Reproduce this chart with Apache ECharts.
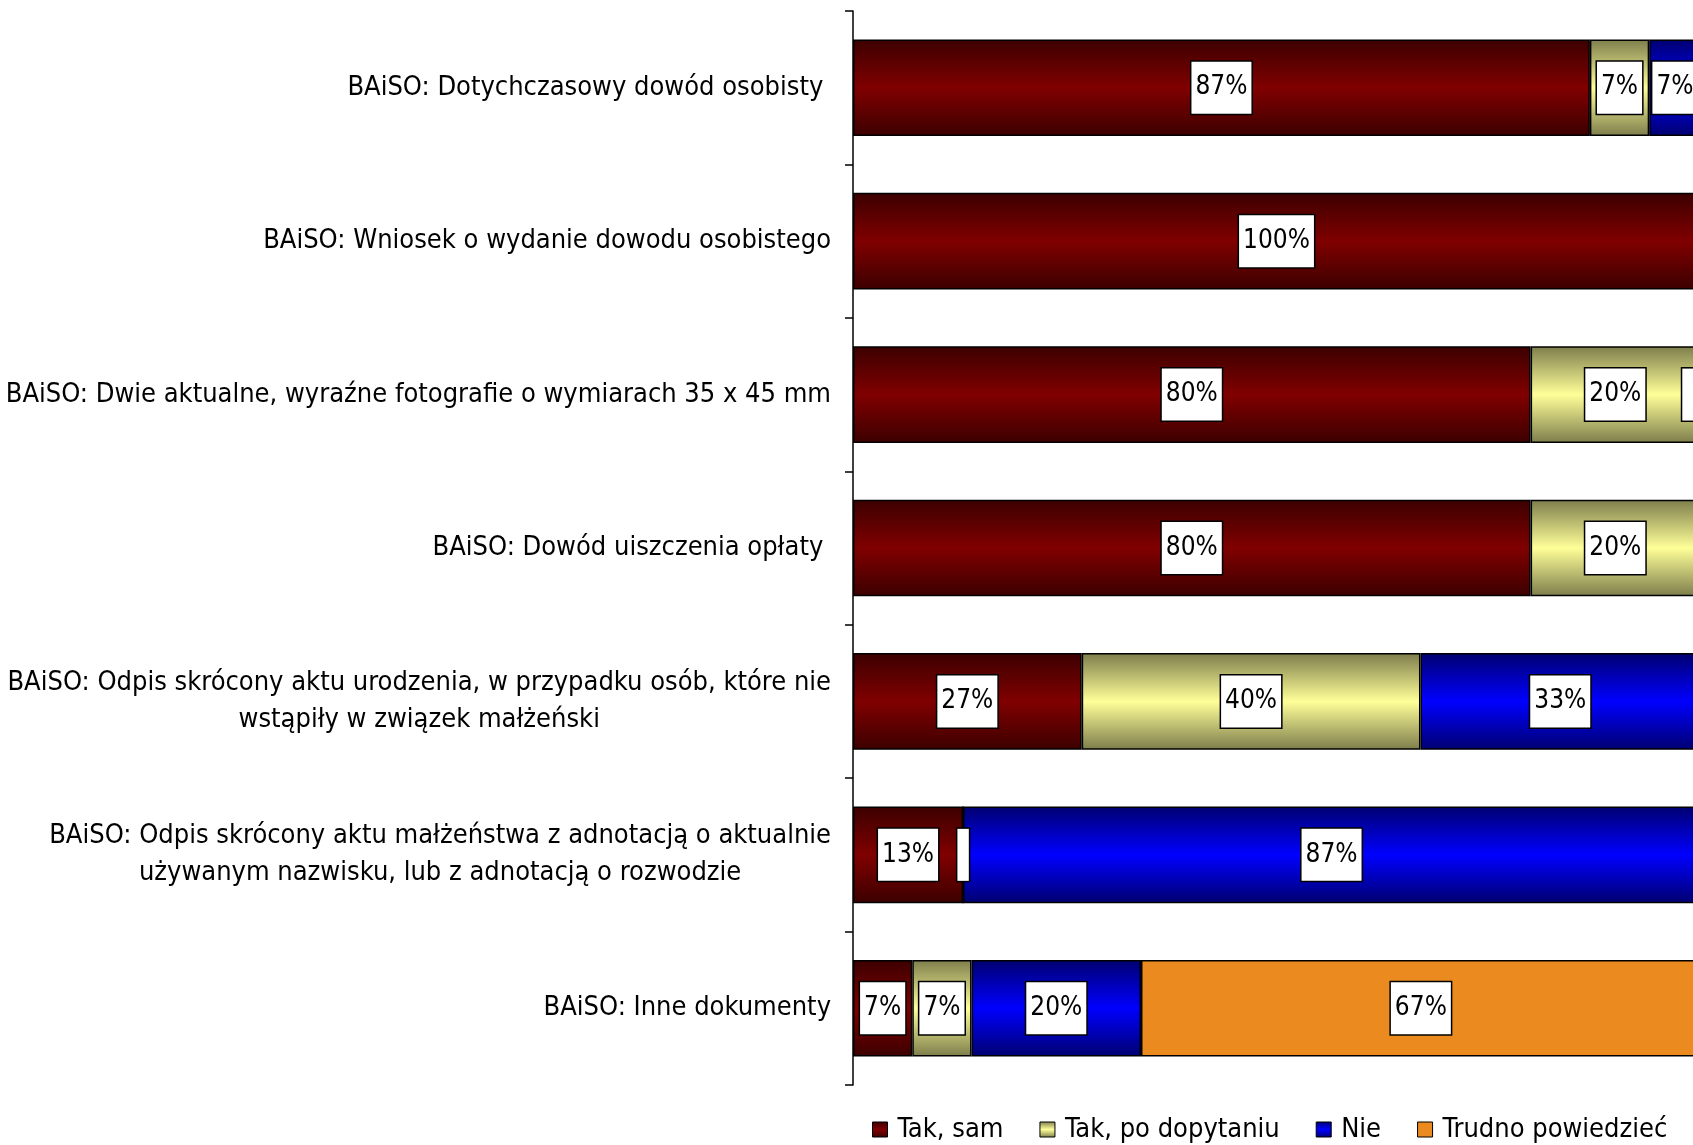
<!DOCTYPE html>
<html>
<head>
<meta charset="utf-8">
<script src="https://cdn.jsdelivr.net/npm/echarts@6/dist/echarts.min.js"></script>
<style>
html,body{margin:0;padding:0;background:#fff;}
#chart{width:1693px;height:1145px;}
</style>
</head>
<body>
<div id="chart"></div>
<script>
const categories = [
  'BAiSO: Dotychczasowy dowód osobisty ',
  'BAiSO: Wniosek o wydanie dowodu osobistego',
  'BAiSO: Dwie aktualne, wyraźne fotografie o wymiarach 35 x 45 mm',
  'BAiSO: Dowód uiszczenia opłaty ',
  'BAiSO: Odpis skrócony aktu urodzenia, w przypadku osób, które nie\nwstąpiły w związek małżeński',
  'BAiSO: Odpis skrócony aktu małżeństwa z adnotacją o aktualnie\nużywanym nazwisku, lub z adnotacją o rozwodzie',
  'BAiSO: Inne dokumenty'
];
const seriesNames = ['Tak, sam', 'Tak, po dopytaniu', 'Nie', 'Trudno powiedzieć'];
const takSam = [87, 100, 80, 80, 27, 13, 7];
const takPoDopytaniu = [7, 0, 20, 20, 40, 0, 7];
const nie = [7, 0, 0, 0, 33, 87, 20];
const trudno = [0, 0, 0, 0, 0, 0, 67];
// zero-valued segments that still show an empty label box in the original
const emptyBoxes = { 1: [5], 2: [2] };

const FONT = '"Liberation Sans Narrow", "DejaVu Sans Condensed", sans-serif';

function vgrad(edge, mid) {
  return new echarts.graphic.LinearGradient(0, 0, 0, 1, [
    { offset: 0, color: edge },
    { offset: 0.5, color: mid },
    { offset: 1, color: edge }
  ]);
}
const fills = [
  vgrad('#3c0000', '#800000'),
  vgrad('#7d7d4c', '#ffff99'),
  vgrad('#000070', '#0000ff'),
  '#ea8a1f'
];

const labelBase = {
  show: true,
  position: 'inside',
  color: '#000',
  fontFamily: FONT,
  fontSize: 26,
  backgroundColor: '#fff',
  borderColor: '#000',
  borderWidth: 1.5,
  padding: [14, 4, 12, 4],
  formatter: p => (p.value > 0 ? p.value + '%' : '')
};

const allValues = [takSam, takPoDopytaniu, nie, trudno];
const series = allValues.map((vals, si) => ({
  name: seriesNames[si],
  type: 'bar',
  stack: 'total',
  barWidth: '63%',
  itemStyle: { color: fills[si], borderColor: '#000', borderWidth: 1.5 },
  label: labelBase,
  data: vals.map((v, i) => {
    if (emptyBoxes[si] && emptyBoxes[si].includes(i)) {
      return {
        value: v,
        label: Object.assign({}, labelBase, {
          formatter: () => ' ',
          padding: [14, 2, 12, 2],
          offset: si === 2 ? [-12, 0] : [0, 0]
        })
      };
    }
    return v;
  })
}));

const chart = echarts.init(document.getElementById('chart'));
chart.setOption({
  backgroundColor: '#fff',
  animation: false,
  grid: { left: 853, top: 11, width: 847, height: 1074, containLabel: false, outerBoundsMode: 'none' },
  legend: {
    left: 867,
    top: 1111,
    itemWidth: 15,
    itemHeight: 15,
    itemGap: 36,
    icon: 'rect',
    itemStyle: { borderColor: '#000', borderWidth: 1 },
    textStyle: { fontFamily: FONT, fontSize: 27, color: '#000', padding: [0, 0, 0, 5] },
    data: seriesNames
  },
  xAxis: {
    type: 'value',
    min: 0,
    max: 100,
    show: false
  },
  yAxis: {
    type: 'category',
    inverse: true,
    data: categories,
    axisLine: { show: true, lineStyle: { color: '#000', width: 1.5 } },
    axisTick: { show: true, length: 8, lineStyle: { color: '#000', width: 1.5 } },
    axisLabel: {
      margin: 22,
      color: '#000',
      fontFamily: FONT,
      fontSize: 27,
      lineHeight: 37,
      formatter: v => v.split('\n').map(l => '{c|' + l + '}').join('\n'),
      rich: { c: { align: 'center', fontFamily: FONT, fontSize: 27, lineHeight: 37, color: '#000' } }
    }
  },
  series: series
});
</script>
</body>
</html>
